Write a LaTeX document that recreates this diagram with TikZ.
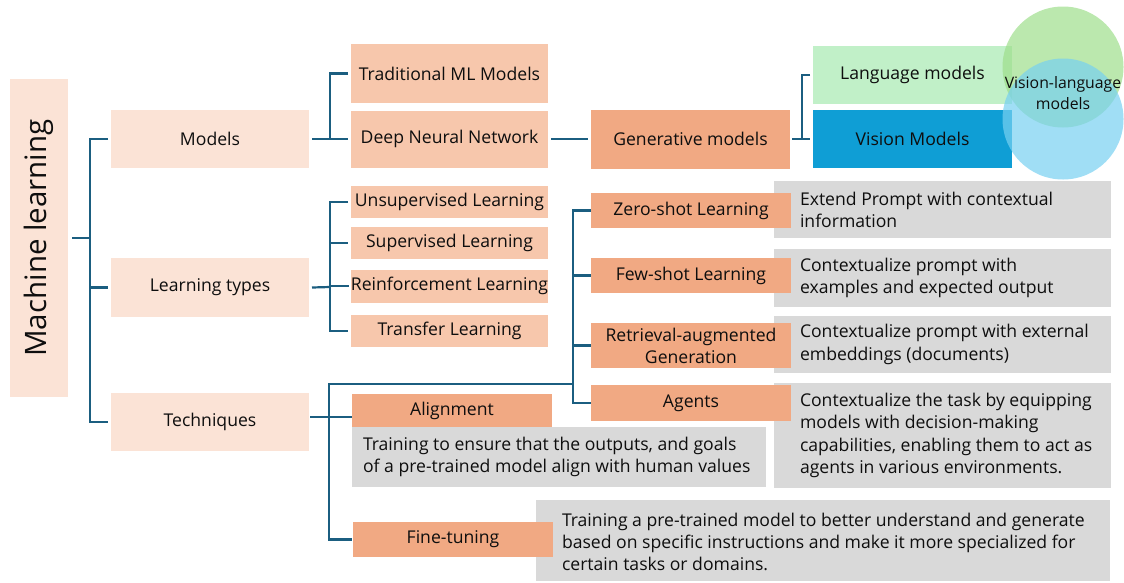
\documentclass[tikz,border=0pt]{standalone}
\usepackage{fontspec}
\setmainfont{Open Sans}
\definecolor{cLight}{HTML}{FBE3D6}
\definecolor{cMid}{HTML}{F7C7AC}
\definecolor{cOrange}{HTML}{F1A983}
\definecolor{cGray}{HTML}{D9D9D9}
\definecolor{cLang}{HTML}{C1F0C8}
\definecolor{cVision}{HTML}{0F9ED5}
\definecolor{cLine}{HTML}{1B5E80}
\definecolor{cText}{HTML}{0E0E0E}
\definecolor{cGreenC}{HTML}{9EDE8B}
\definecolor{cBlueC}{HTML}{77D0F1}
\newcommand\fslbl{\fontsize{17.6}{22.2}\selectfont}
\newcommand\fsml{\fontsize{29.5}{34}\selectfont}
\newcommand\fsvl{\fontsize{15.8}{21}\selectfont}
\begin{document}
\begin{tikzpicture}[x=1pt,y=-1pt,
  box/.style={inner sep=0pt, outer sep=0pt, draw=none, align=center, text=cText, font=\fslbl},
  lightbox/.style={box, fill=cLight},
  midbox/.style={box, fill=cMid},
  orbox/.style={box, fill=cOrange},
  graybox/.style={box, fill=cGray},
  desctext/.style={inner sep=0pt, outer sep=0pt, anchor=west, align=left, text=cText, font=\fslbl},
  conn/.style={draw=cLine, line width=2.2pt}
]
\useasboundingbox (0,0) rectangle (1124,582);

% level 0 and 1
\node[lightbox, minimum width=58, minimum height=318] (ml) at (39,238) {\rotatebox{90}{\fsml Machine learning}};
\node[lightbox, minimum width=198, minimum height=58] (models) at (210,139) {Models};
\node[lightbox, minimum width=198, minimum height=59] (ltypes) at (210,287.5) {Learning types};
\node[lightbox, minimum width=198, minimum height=58] (techniques) at (210,422) {Techniques};

% models
\node[midbox, minimum width=197, minimum height=59] (trad) at (449.5,73.5) {Traditional ML Models};
\node[midbox, minimum width=197, minimum height=57] (dnn) at (449.5,139) {Deep Neural Network};
\node[orbox, minimum width=199, minimum height=59] (gen) at (690.5,139) {Generative models};
\node[box, fill=cLang, minimum width=199, minimum height=58] (lang) at (912.5,75) {Language models};
\node[box, fill=cVision, minimum width=199, minimum height=58] (vis) at (912.5,139) {Vision Models};

% circles
\fill[cGreenC, fill opacity=0.7] (1063,67) circle (60.5);
\fill[cBlueC, fill opacity=0.7] (1063,119) circle (60.5);
\node[box, font=\fsvl] (vlm) at (1063,93) {Vision-language\\models};

% learning types
\node[midbox, minimum width=197, minimum height=32] (unsup) at (449.5,202) {Unsupervised Learning};
\node[midbox, minimum width=197, minimum height=32] (sup) at (449.5,243) {Supervised Learning};
\node[midbox, minimum width=197, minimum height=33] (reinf) at (449.5,286) {Reinforcement Learning};
\node[midbox, minimum width=197, minimum height=32] (transfer) at (449.5,331) {Transfer Learning};

% description boxes
\node[graybox, minimum width=337, minimum height=57] (zerod) at (942.5,209.5) {};
\node[graybox, minimum width=337, minimum height=58] (fewd) at (942.5,278) {};
\node[graybox, minimum width=337, minimum height=57] (ragd) at (942.5,344.5) {};
\node[graybox, minimum width=337, minimum height=105] (agentsd) at (942.5,435.5) {};
\node[graybox, minimum width=414, minimum height=60] (alignd) at (559,457) {};
\node[graybox, minimum width=574, minimum height=81] (fined) at (823,540) {};

\node[desctext] (zerot) at ([xshift=26pt]zerod.west) {Extend Prompt with contextual\\information};
\node[desctext] (fewt) at ([xshift=26pt]fewd.west) {Contextualize prompt with\\examples and expected output};
\node[desctext] (ragt) at ([xshift=26pt]ragd.west) {Contextualize prompt with external\\embeddings (documents)};
\node[desctext] (agentst) at ([xshift=26pt]agentsd.west) {Contextualize the task by equipping\\models with decision-making\\capabilities, enabling them to act as\\agents in various environments.};
\node[desctext] (alignt) at ([xshift=11pt]alignd.west) {Training to ensure that the outputs, and goals\\of a pre-trained model align with human values};
\node[desctext] (finet) at ([xshift=26pt,yshift=-2pt]fined.west) {Training a pre-trained model to better understand and generate\\based on specific instructions and make it more specialized for\\certain tasks or domains.};

% techniques
\node[orbox, minimum width=200, minimum height=35] (zero) at (691,210.5) {Zero-shot Learning};
\node[orbox, minimum width=200, minimum height=35] (few) at (691,275.5) {Few-shot Learning};
\node[orbox, minimum width=200, minimum height=45] (rag) at (691,345.5) {Retrieval-augmented\\Generation};
\node[orbox, minimum width=200, minimum height=36] (agents) at (691,403) {Agents};
\node[orbox, minimum width=200, minimum height=33] (align) at (452,410.5) {Alignment};
\node[orbox, minimum width=200, minimum height=35] (fine) at (453,539.5) {Fine-tuning};

% connectors
\coordinate (j0) at (90,238);
\draw[conn] ([xshift=4pt]ml.east) -- (j0);
\draw[conn] ([xshift=-3pt]models.west) -| (j0) |- ([xshift=-3pt]techniques.west);
\draw[conn] (j0) |- ([xshift=-3pt]ltypes.west);

\coordinate (j1) at (330,139);
\draw[conn] ([xshift=3pt]models.east) -- (j1);
\draw[conn] ([xshift=-3pt]trad.west) -| (j1) |- ([xshift=-3pt]dnn.west);
\draw[conn] ([xshift=3pt]dnn.east) -- ([xshift=-3pt]gen.west);

\coordinate (j2) at (802,139);
\draw[conn] ([xshift=2pt]gen.east) -- (j2);
\draw[conn] ([xshift=-3pt]lang.west) -| (j2) |- ([xshift=-3pt]vis.west);

\coordinate (j3) at (330,287);
\draw[conn] ([xshift=3pt]ltypes.east) -- (j3);
\draw[conn] ([xshift=-3pt]unsup.west) -| (j3) |- ([xshift=-3pt]transfer.west);
\draw[conn] (j3 |- sup.west) -- ([xshift=-3pt]sup.west);
\draw[conn] (j3 |- reinf.west) -- ([xshift=-2pt]reinf.west);

\coordinate (j4) at (329,417);
\coordinate (j5) at (573,384);
\draw[conn] ([xshift=1pt,yshift=5pt]techniques.east) -- (j4) -- (j4 -| align.west);
\draw[conn] (j5) -| (j4) |- ([xshift=-1pt]fine.west);
\draw[conn] (zero.west) -| (j5) |- (agents.west);
\draw[conn] (j5 |- few.west) -- (few.west);
\draw[conn] (j5 |- rag.west) -- (rag.west);
\end{tikzpicture}
\end{document}
